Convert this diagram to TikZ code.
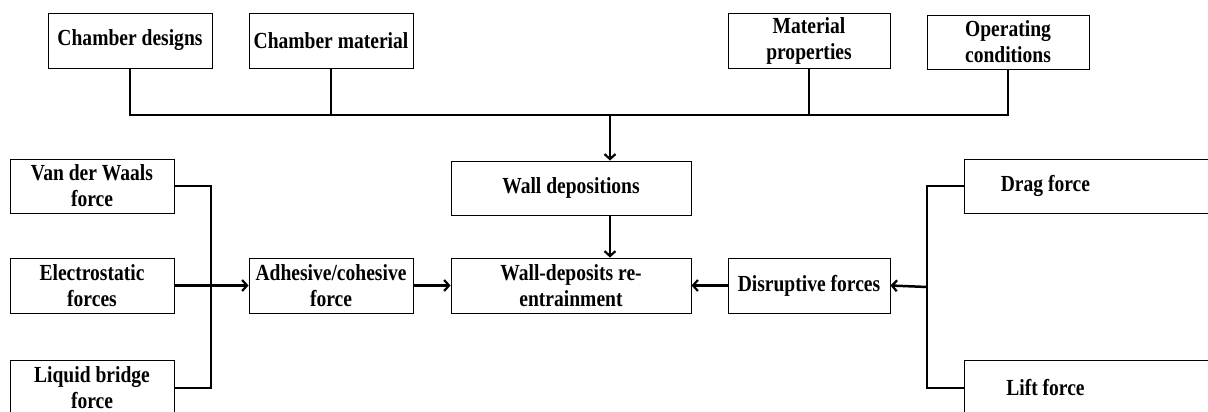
\documentclass[tikz,border=0pt]{standalone}
\usepackage{fontspec}
\setmainfont{Liberation Serif}
\newfontfamily\boxfont{Liberation Serif}[FakeStretch=0.85]
\usetikzlibrary{arrows.meta}
\begin{document}
\begin{tikzpicture}[x=1pt,y=-1pt,
  box/.style={draw, line width=0.9pt, inner sep=0pt, align=center,
    font=\boxfont\fontsize{23}{26}\selectfont\bfseries},
  conn/.style={line width=2.5pt},
  arr/.style={line width=2.5pt, -{Straight Barb[length=5pt,width=11pt,line width=2.2pt]}}]
\useasboundingbox (0,0) rectangle (1208,412);

% top row: influencing factors
\node[box, minimum width=164pt, minimum height=55pt] (cd) at (130,40.5) {Chamber designs};
\node[box, minimum width=164pt, minimum height=55pt] (cm) at (331,40.5) {Chamber material};
\node[box, minimum width=162pt, minimum height=55pt] (mp) at (809,40.5) {Material\\properties};
\node[box, minimum width=162pt, minimum height=54pt] (op) at (1008,42) {Operating\\conditions};

% middle column
\node[box, minimum width=240pt, minimum height=54pt] (wd) at (571,188) {Wall depositions};
\node[box, minimum width=240pt, minimum height=55pt] (wr) at (571,285.5) {Wall-deposits re-\\entrainment};

% adhesive side
\node[box, minimum width=164pt, minimum height=54pt] (vw) at (92,186) {Van der Waals\\force};
\node[box, minimum width=164pt, minimum height=55pt] (es) at (92,285.5) {Electrostatic\\forces};
\node[box, minimum width=164pt, minimum height=55pt] (lq) at (92,388) {Liquid bridge\\force};
\node[box, minimum width=164pt, minimum height=55pt] (ad) at (331,285.5) {Adhesive/cohesive\\force};

% disruptive side
\node[box, anchor=west, minimum height=54pt] (dr) at (964,186) {\makebox[162pt]{Drag force}\hspace{100pt}};
\node[box, anchor=west, minimum height=55pt] (lf) at (964,388) {\makebox[162pt]{Lift force}\hspace{100pt}};
\node[box, minimum width=162pt, minimum height=55pt] (ds) at (809,285.5) {Disruptive forces};

% junction points
\coordinate (hub) at (610,115);
\coordinate (lj) at (211,287);
\coordinate (rj) at (927,287);

% top collector
\draw[conn] (cd.south) -- (cd.south |- hub) -- (op.south |- hub) -- (op.south);
\draw[conn] (cm.south) -- (cm.south |- hub);
\draw[conn] (mp.south) -- (mp.south |- hub);
\draw[arr] (hub) -- (wd.north -| hub);
\draw[arr] (wd.south -| hub) -- (wr.north -| hub);

% adhesive forces
\draw[conn] (vw.east) -- (vw.east -| lj) -- (lq.east -| lj) -- (lq.east);
\draw[arr] (es.east) -- (ad.west);
\draw[arr] (ad.east) -- (wr.west);

% disruptive forces
\draw[conn] (dr.west) -- (dr.west -| rj) -- (lf.west -| rj) -- (lf.west);
\draw[arr] (rj) -- (ds.east);
\draw[arr] (ds.west) -- (wr.east);
\end{tikzpicture}
\end{document}
